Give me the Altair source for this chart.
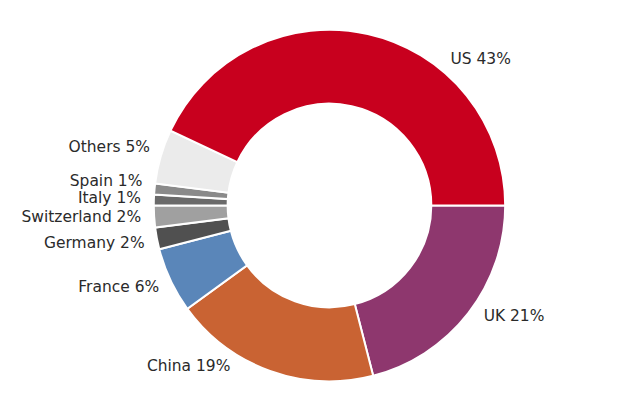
import math
import altair as alt
import pandas as pd

# Slices listed clockwise starting from 3 o'clock
countries = ["UK", "China", "France", "Germany", "Switzerland", "Italy", "Spain", "Others", "US"]
shares = [21, 19, 6, 2, 2, 1, 1, 5, 43]
colors = ["#8e376e", "#c96333", "#5a86b9", "#505050", "#a0a0a0", "#6a6a6a", "#8a8a8a", "#ebebeb", "#c8001e"]
# label anchor position along the ring, in percent (clockwise from 3 o'clock)
label_pos = [9.9, 33.8, 42.9, 46.8, 49.0, 50.6, 52.1, 55.0, 86.0]
label_align = ["left", "right", "right", "right", "right", "right", "right", "right", "left"]

df = pd.DataFrame({
    "country": countries,
    "share": shares,
    "ord": list(range(len(countries))),
    "label": [f"{c} {s}%" for c, s in zip(countries, shares)],
    "pos": label_pos,
    "align": label_align,
})

theta_scale = alt.Scale(domain=[0, 100], range=[math.pi / 2, math.pi / 2 + 2 * math.pi])

arcs = alt.Chart(df).mark_arc(outerRadius=176, innerRadius=102, stroke="white", strokeWidth=2).encode(
    theta=alt.Theta("share:Q", stack=True, scale=theta_scale),
    order=alt.Order("ord:Q"),
    color=alt.Color("country:N", scale=alt.Scale(domain=countries, range=colors), legend=None),
)

font = "DejaVu Sans"
left_labels = alt.Chart(df).transform_filter(alt.datum.align == "left").mark_text(
    align="left", baseline="middle", fontSize=15.5, font=font, color="#2a2a2a", radius=190
).encode(
    theta=alt.Theta("pos:Q", stack=None, scale=theta_scale),
    text="label:N",
)
right_labels = alt.Chart(df).transform_filter(alt.datum.align == "right").mark_text(
    align="right", baseline="middle", fontSize=15.5, font=font, color="#2a2a2a", radius=189
).encode(
    theta=alt.Theta("pos:Q", stack=None, scale=theta_scale),
    text="label:N",
)

chart = alt.layer(arcs, left_labels, right_labels).properties(
    width=600,
    height=395,
    padding={"left": 22, "top": 0, "right": 0, "bottom": 0},
    autosize=alt.AutoSizeParams(type="none"),
).configure_view(stroke=None)

chart.save("out.html", embed_options={"renderer": "svg", "actions": False})
